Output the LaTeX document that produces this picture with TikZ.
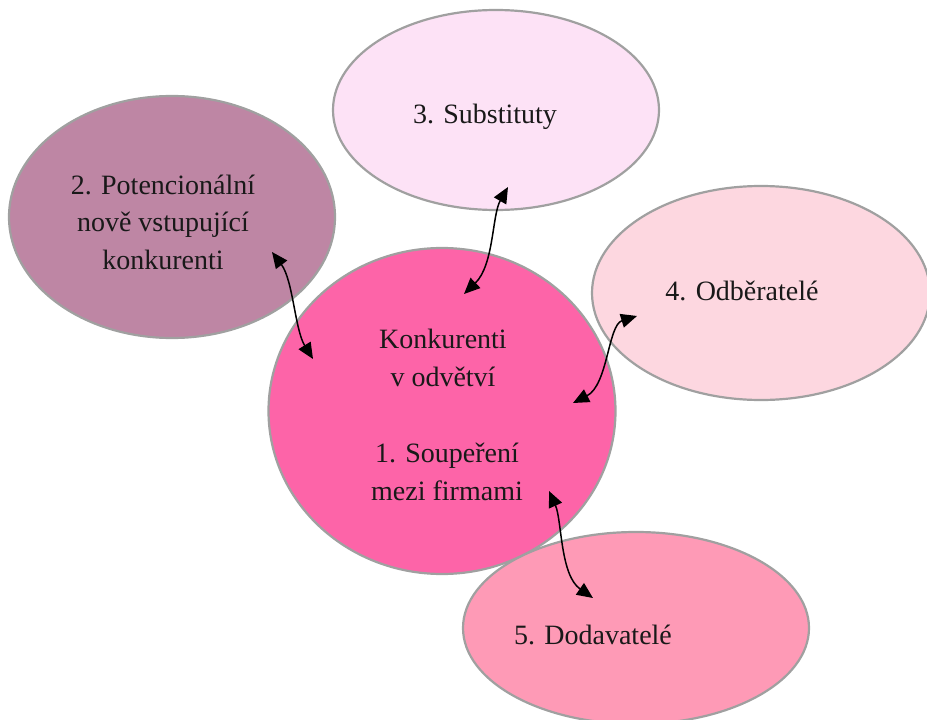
\documentclass[tikz,border=0pt]{standalone}
\usepackage{fontspec}
\setmainfont{Liberation Serif}
\usetikzlibrary{shapes.geometric,arrows.meta}
\definecolor{cCore}{RGB}{253,100,168}
\definecolor{cEntry}{RGB}{190,134,164}
\definecolor{cSubst}{RGB}{253,226,246}
\definecolor{cBuyer}{RGB}{253,215,224}
\definecolor{cSupp}{RGB}{254,154,182}
\definecolor{cRim}{RGB}{160,160,160}
\tikzset{
  force/.style={ellipse, draw=cRim, line width=2.2bp, inner sep=0pt},
  lbl/.style={font=\fontsize{28bp}{37.5bp}\selectfont, align=center, text=black!90, inner sep=0pt},
  link/.style={line width=1.5bp, {Triangle[length=16bp,width=14bp]}-{Triangle[length=16bp,width=14bp]}}
}
\begin{document}
\begin{tikzpicture}[x=1bp,y=-1bp]
\useasboundingbox (0,0) rectangle (927,720);
\clip (0,0) rectangle (927,720);

% the five forces
\node[force, fill=cSubst, minimum width=326bp, minimum height=200bp] (subst) at (496,110) {};
\node[force, fill=cEntry, minimum width=326bp, minimum height=242bp] (entry) at (172,217) {};
\node[force, fill=cCore, minimum width=347bp, minimum height=326bp] (core) at (442,411) {};
\node[force, fill=cBuyer, minimum width=338bp, minimum height=214bp] (buyer) at (761,293) {};
\node[force, fill=cSupp, minimum width=346bp, minimum height=192bp] (supp) at (636,628) {};

% arrow end points
\coordinate (eA) at (272,252);  \coordinate (cA) at (313,359);
\coordinate (sB) at (508,187);  \coordinate (cB) at (464,294);
\coordinate (bC) at (637,316);  \coordinate (cC) at (573,403);
\coordinate (cD) at (549,491);  \coordinate (sD) at (593,598);

% two-way influences
\draw[link] (eA) .. controls (293,280) and (295,330) .. (cA);
\draw[link] (sB) .. controls (492,215) and (494,265) .. (cB);
\draw[link] (bC) .. controls (608,325) and (608,385) .. (cC);
\draw[link] (cD) .. controls (562,520) and (560,575) .. (sD);

% texts
\node[lbl] (tSubst) at (485,117) {3. Substituty};
\node[lbl] (tEntry) at (163,222) {2. Potencionální\\nově vstupující\\konkurenti};
\node[lbl] (tCore1) at (443,358) {Konkurenti\\v odvětví};
\node[lbl] (tCore2) at (447,472) {1. Soupeření\\mezi firmami};
\node[lbl] (tBuyer) at (742,291) {4. Odběratelé};
\node[lbl] (tSupp) at (593,635) {5. Dodavatelé};
\end{tikzpicture}
\end{document}
